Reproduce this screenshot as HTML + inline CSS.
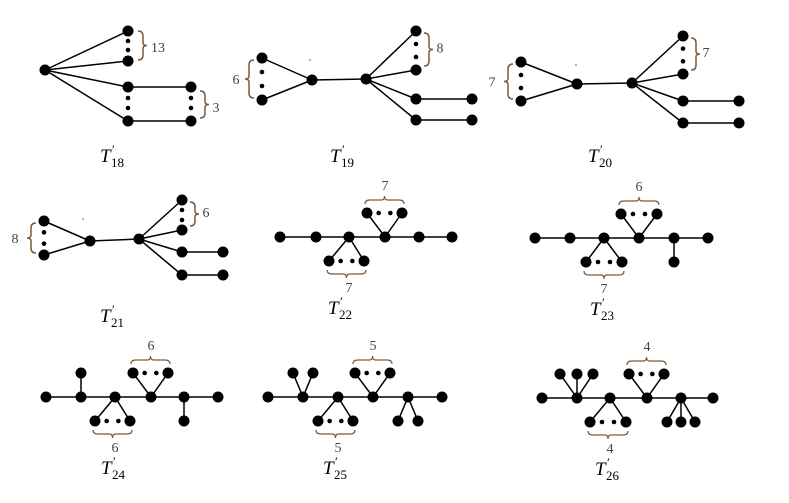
<!DOCTYPE html><html><head><style>body{margin:0;background:#fff}svg{display:block}
.l{font-family:"Liberation Serif",serif;font-size:14px;fill:#444}
.t{font-family:"Liberation Serif",serif;font-style:italic;font-size:19px;fill:#000}
.s{font-family:"Liberation Serif",serif;font-size:13px;fill:#000}
</style></head><body>
<svg id="g" width="789" height="503" xmlns="http://www.w3.org/2000/svg" stroke="#000" stroke-width="1.5"></svg>
<script>
const g=document.getElementById('g');let h='';
const N=(x,y)=>h+=`<circle cx="${x}" cy="${y}" r="5.5" fill="#000" stroke="none"/>`;
const D=(x,y)=>h+=`<circle cx="${x}" cy="${y}" r="2.3" fill="#000" stroke="none"/>`;
const L=(a,b,c,d)=>h+=`<line x1="${a}" y1="${b}" x2="${c}" y2="${d}"/>`;
const T=(x,y,s)=>h+=`<text class="l" x="${x}" y="${y}" stroke="none" text-anchor="middle">${s}</text>`;
const lab=(x,y,n)=>h+=`<text class="t" x="${x}" y="${y}" stroke="none">T</text><text class="s" x="${x+12}" y="${y-8}" stroke="none">′</text><text class="s" x="${x+11}" y="${y+5}" stroke="none">${n}</text>`;
const BR=(x,y1,y2)=>{const m=(y1+y2)/2;h+=`<path d="M${x} ${y1} q5 0 5 5 v${m-y1-8} q0 3 4 3 q-4 0 -4 3 v${y2-m-8} q0 5 -5 5" fill="none" stroke="#7a5a3a" stroke-width="1.5"/>`};
const BL=(x,y1,y2)=>{const m=(y1+y2)/2;h+=`<path d="M${x} ${y1} q-5 0 -5 5 v${m-y1-8} q0 3 -4 3 q4 0 4 3 v${y2-m-8} q0 5 5 5" fill="none" stroke="#7a5a3a" stroke-width="1.5"/>`};
const BU=(x1,x2,y)=>{const m=(x1+x2)/2;h+=`<path d="M${x1} ${y} q0 -4 5 -4 h${m-x1-8} q3 0 3 -4 q0 4 3 4 h${x2-m-8} q5 0 5 4" fill="none" stroke="#7a5a3a" stroke-width="1.2"/>`};
const BD=(x1,x2,y)=>{const m=(x1+x2)/2;h+=`<path d="M${x1} ${y} q0 4 5 4 h${m-x1-8} q3 0 3 4 q0 -4 3 -4 h${x2-m-8} q5 0 5 -4" fill="none" stroke="#7a5a3a" stroke-width="1.2"/>`};
[[128,31],[128,61],[128,87],[128,121]].forEach(p=>L(45,70,p[0],p[1]));
L(128,87,191,87);L(128,121,191,121);
[[45,70],[128,31],[128,61],[128,87],[128,121],[191,87],[191,121]].forEach(p=>N(...p));
D(128,41);D(128,50);D(128,98);D(128,108);D(191,98);D(191,108);
BR(138,31,60);T(158,52,'13');BR(200,91,118);T(216,112,'3');lab(100,162,'18');
function F(lx,ly1,ly2,cx,cy,hx,hy,rx,ry1,ry2,ly3,ly4,ex,lb,lbx,rb,rbx,name,nx,ny){
 L(lx,ly1,cx,cy);L(lx,ly2,cx,cy);L(cx,cy,hx,hy);
 [ry1,ry2,ly3,ly4].forEach(y=>L(hx,hy,rx,y));L(rx,ly3,ex,ly3);L(rx,ly4,ex,ly4);
 [[lx,ly1],[lx,ly2],[cx,cy],[hx,hy],[rx,ry1],[rx,ry2],[rx,ly3],[rx,ly4],[ex,ly3],[ex,ly4]].forEach(p=>N(...p));
 let s=(ly2-ly1)/3;D(lx,ly1+s);D(lx,ly1+2*s);s=(ry2-ry1)/3;D(rx,ry1+s);D(rx,ry1+2*s);
 BL(lx-8,ly1+2,ly2-2);T(lbx,(ly1+ly2)/2+5,lb);BR(rx+8,ry1+2,ry2-4);T(rbx,(ry1+ry2)/2+2,rb);lab(nx,ny,name);}
F(262,58,100,312,80,366,79,416,31,70,99,120,472,'6',236,'8',440,'19',330,162);
F(521,62,101,577,84,632,83,683,36,74,101,123,739,'7',492,'7',706,'20',588,162);
F(44,221,255,90,241,139,239,182,200,230,252,275,223,'8',15,'6',206,'21',100,322);
function S(xs,y,top,bot,ups,downs,nt,nb,name,nx){
 L(xs[0],y,xs[5],y);
 const tri=(c,l,r,yy,dir,n)=>{L(c,y,l,yy);L(c,y,r,yy);N(l,yy);N(r,yy);const w=(r-l)/3;D(l+w,yy);D(l+2*w,yy);
  if(dir<0){BU(l-2,r+2,yy-9);T(c,yy-23,n)}else{BD(l-2,r+2,yy+9);T(c,yy+31,n)}};
 tri(xs[3],top[0],top[1],y-24,-1,nt);tri(xs[2],bot[0],bot[1],y+24,1,nb);
 ups.forEach(p=>{L(p[0],y,p[1],y-24);N(p[1],y-24)});downs.forEach(p=>{L(p[0],y,p[1],y+24);N(p[1],y+24)});
 xs.forEach(x=>N(x,y));lab(nx,y+77,name);}
S([280,316,349,385,419,452],237,[367,402],[329,364],[],[],'7','7','22',328);
S([535,570,604,639,674,708],238,[621,657],[586,622],[],[[674,674]],'6','7','23',590);
S([46,81,115,151,184,218],397,[133,168],[95,130],[[81,81]],[[184,184]],'6','6','24',101);
S([268,303,338,373,408,442],397,[355,390],[318,353],[[303,293],[303,313]],[[408,398],[408,418]],'5','5','25',323);
S([542,577,610,647,681,713],398,[629,664],[590,626],[[577,560],[577,577],[577,593]],[[681,667],[681,681],[681,695]],'4','4','26',595);
h+='<circle cx="576" cy="65" r="0.8" fill="#555" stroke="none"/><circle cx="310" cy="60" r="0.8" fill="#555" stroke="none"/><circle cx="83" cy="219" r="0.8" fill="#555" stroke="none"/>';
g.innerHTML=h;
</script></body></html>
